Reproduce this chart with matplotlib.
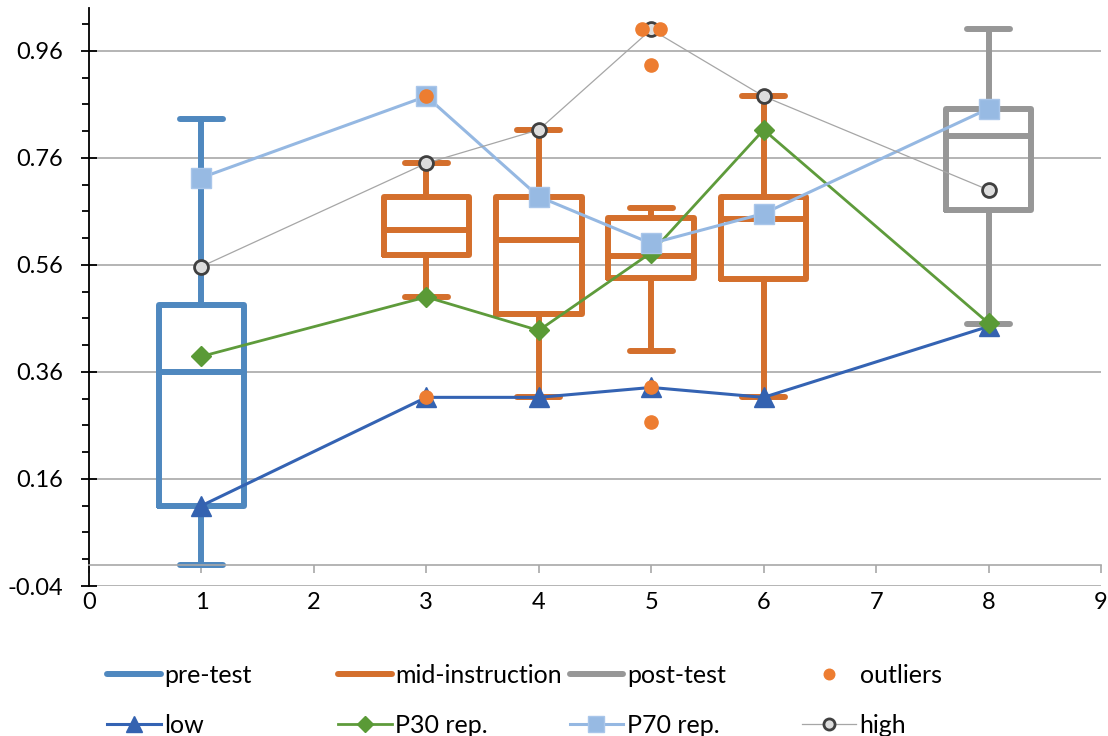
import matplotlib
matplotlib.use("Agg")
import matplotlib.pyplot as plt
from matplotlib.lines import Line2D
import numpy as np

# ---------------- data ----------------
box_pos = [1, 3, 4, 5, 6, 8]
box_group = ["pre-test", "mid-instruction", "mid-instruction", "mid-instruction", "mid-instruction", "post-test"]
whislo = [0.0, 0.50, 0.3125, 0.40, 0.3125, 0.45]
q1 = [0.11, 0.578, 0.469, 0.535, 0.533, 0.663]
med = [0.36, 0.625, 0.607, 0.577, 0.645, 0.80]
q3 = [0.486, 0.6875, 0.6875, 0.648, 0.6875, 0.852]
whishi = [0.833, 0.75, 0.8125, 0.667, 0.875, 1.0]

outlier_x = [3, 3, 4.92, 5.08, 5, 5, 5]
outlier_y = [0.875, 0.3125, 1.0, 1.0, 0.934, 0.331, 0.266]

series_x = [1, 3, 4, 5, 6, 8]
low = [0.11, 0.3125, 0.3125, 0.331, 0.3125, 0.445]
p30 = [0.389, 0.50, 0.4375, 0.583, 0.8125, 0.451]
p70 = [0.723, 0.875, 0.6875, 0.60, 0.656, 0.852]
high = [0.557, 0.75, 0.8125, 1.0, 0.875, 0.70]

y_ticks = [-0.04, 0.16, 0.36, 0.56, 0.76, 0.96]
x_ticks = [0, 1, 2, 3, 4, 5, 6, 7, 8, 9]

# ---------------- style ----------------
plt.rcParams["font.family"] = ["Lato", "DejaVu Sans"]
group_color = {"pre-test": "#4F88BF", "mid-instruction": "#D46F2C", "post-test": "#979797"}
grid_col = "#A8A8A8"
BOX_LW = 4.3

fig = plt.figure(figsize=(11.08, 7.36), dpi=100)
ax = fig.add_axes([0.0803, 0.2038, 0.9937 - 0.0803, 0.9891 - 0.2038])

# boxes
for i, p in enumerate(box_pos):
    c = group_color[box_group[i]]
    st = [dict(med=med[i], q1=q1[i], q3=q3[i], whislo=whislo[i], whishi=whishi[i], fliers=[])]
    common = dict(color=c, lw=BOX_LW, solid_capstyle="round", solid_joinstyle="round")
    ax.bxp(st, positions=[p], widths=0.76, capwidths=0.38, showfliers=False,
           manage_ticks=False, boxprops=common, whiskerprops=common,
           capprops=common, medianprops=common, zorder=2)

# series
l_low, = ax.plot(series_x, low, color="#3463B3", lw=2.2, marker="^", ms=15,
                 mfc="#3462B0", mec="#3462B0", zorder=3, label="low")
l_p30, = ax.plot(series_x, p30, color="#5E9B3B", lw=2.0, marker="D", ms=10.5,
                 mfc="#5A9A36", mec="#5A9A36", zorder=4, label="P30 rep.")
l_p70, = ax.plot(series_x, p70, color="#95B8E2", lw=2.2, marker="s", ms=15,
                 mfc="#97BAE3", mec="#A9C6EA", mew=1.0, zorder=5, label="P70 rep.")
l_high, = ax.plot(series_x, high, color="#A6A6A6", lw=0.9, marker="o", ms=10,
                  mfc="#DDDDDD", mec="#404040", mew=2.0, zorder=6, label="high")
l_out, = ax.plot(outlier_x, outlier_y, ls="none", marker="o", ms=9.5,
                 mfc="#ED7D31", mec="#ED7D31", zorder=7, label="outliers")

# axes
ax.set_xlim(0, 9)
ax.set_ylim(-0.04, 1.04)
ax.set_yticks(y_ticks)
ax.set_yticklabels([f"{v:.2f}" for v in y_ticks])
ax.set_yticks(np.arange(-0.04, 1.03, 0.05), minor=True)
ax.set_xticks(x_ticks)
ax.set_xticklabels([str(v) for v in x_ticks])
ax.yaxis.grid(True, which="major", color=grid_col, lw=1.2, zorder=0)
ax.set_axisbelow(True)

for s in ["top", "right"]:
    ax.spines[s].set_visible(False)
ax.spines["left"].set_color("black")
ax.spines["left"].set_linewidth(1.3)
ax.spines["bottom"].set_position(("data", 0))
ax.spines["bottom"].set_color(grid_col)
ax.spines["bottom"].set_linewidth(1.2)

ax.tick_params(axis="y", which="major", direction="inout", length=11, width=1.3,
               color="black", labelsize=17, pad=13)
ax.tick_params(axis="y", which="minor", direction="out", length=5, width=1.3, color="black")
ax.tick_params(axis="x", which="major", direction="out", length=6, width=1.2,
               color=grid_col, labelsize=17, pad=14)

# legend (4 columns)
h_pre = Line2D([], [], color=group_color["pre-test"], lw=BOX_LW, solid_capstyle="round")
h_mid = Line2D([], [], color=group_color["mid-instruction"], lw=BOX_LW, solid_capstyle="round")
h_post = Line2D([], [], color=group_color["post-test"], lw=BOX_LW, solid_capstyle="round")
cols = [([h_pre, l_low], ["pre-test", "low"]),
        ([h_mid, l_p30], ["mid-instruction", "P30 rep."]),
        ([h_post, l_p70], ["post-test", "P70 rep."]),
        ([l_out, l_high], ["outliers", "high"])]
col_x = [0.0965, 0.305, 0.514, 0.724]
for (hs, ls), x in zip(cols, col_x):
    fig.legend(hs, ls, loc="center left", bbox_to_anchor=(x, 0.0485), frameon=False,
               fontsize=18, handlelength=2.15, handletextpad=0.15, borderpad=0,
               borderaxespad=0, labelspacing=1.1, numpoints=1, markerscale=0.8)

fig.savefig("out.png", dpi=100)
